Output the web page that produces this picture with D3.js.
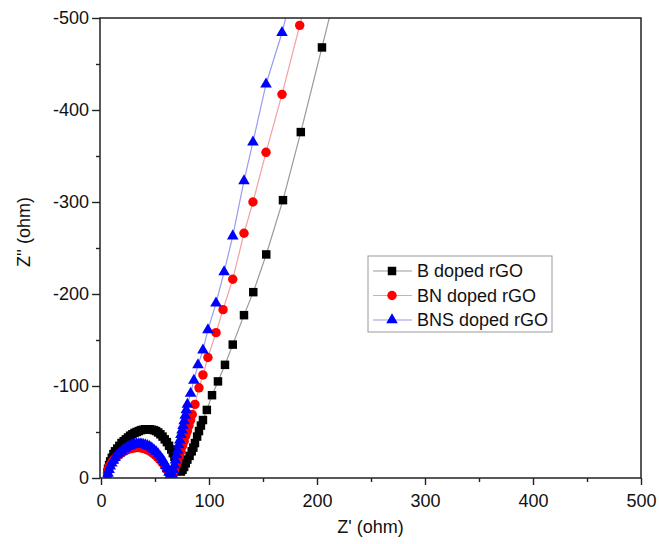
<!DOCTYPE html>
<html>
<head>
    <script src="https://cdn.jsdelivr.net/npm/d3@7"></script>
    <title>Nyquist plot</title>
</head>
<style>
    body { margin: 0; background: #fff; }
    text { font-family: "Liberation Sans", Arial, sans-serif; }
</style>
<body></body>
<script>
    // Data: Z' (ohm) and -Z'' (ohm)
    var seriesNames = ["B doped rGO", "BN doped rGO", "BNS doped rGO"];

    var bDopedX = [6, 6.5, 7.5, 8.5, 10, 11.5, 13, 15, 17, 19, 21, 23, 25, 27, 29, 31, 33, 35, 37, 39, 41, 43, 45,
                   47, 49, 51, 53, 55, 57, 59, 61, 63, 65, 66.5, 68, 69.5, 71, 72.5, 74,
                   75.5, 77, 78.5, 80, 82, 84, 85.5, 87, 89, 90.7, 92.5, 94.4, 98, 102.8, 108.3, 114.8, 122, 132.4,
                   141, 153, 168.5, 185, 204.6, 224];
    var bDopedY = [6, 10, 14, 18, 22, 26, 29, 32, 35, 38, 40, 42, 44, 46, 47.5, 49, 50, 51, 52, 52.5, 53, 53, 53,
                   52.5, 52, 51, 49.5, 47.5, 45, 42, 39, 35, 31, 27, 23, 19, 15, 11, 7,
                   9, 12, 16, 20, 24, 29, 33, 38, 45, 51, 57, 63, 74, 90, 105, 123, 145, 177,
                   202, 243, 302, 376, 468, 560];

    var bnDopedX = [6, 6.5, 7.5, 9, 10.5, 12, 14, 16, 18, 20, 22, 24, 26, 28, 30, 32, 34, 36, 38, 40, 42, 44,
                    46, 48, 50, 52, 54, 56, 58, 59.5, 61, 62.5, 64, 65,
                    66.5, 68, 69.5, 71, 72.5, 74, 75.5, 77, 78.5, 80, 81.5, 83, 84.5, 87, 90.7, 94.4, 99, 106.5, 113,
                    122, 132.4, 140.7, 152.8, 167.6, 184, 201];
    var bnDopedY = [5, 9, 12, 15, 18, 20, 22.5, 24.5, 26.5, 28, 29.5, 30.5, 31.5, 32, 32.5, 33, 33, 33, 32.5, 32, 31, 30,
                    28.5, 27, 25, 23, 20.5, 18, 15, 12, 9, 6, 3, 1,
                    3, 8, 13, 18, 24, 29, 35, 40, 46, 51, 57, 63, 69, 80, 98, 112, 131, 158, 183,
                    216, 266, 300, 354, 417, 492, 566];

    var bnsDopedX = [6, 6.5, 7.5, 8.5, 10, 11.5, 13, 15, 17, 19, 21, 23, 25, 27, 29, 31, 33, 35, 37, 39, 41, 43,
                     45, 47, 49, 51, 53, 55, 57, 58.5, 60, 61.5, 63, 64, 65,
                     66, 67, 68, 69, 70, 71, 72, 73, 74, 75, 76, 77, 78, 79, 80, 83, 86, 89.8, 94.4, 99, 106.5,
                     114, 122, 132.4, 140.7, 152.8, 167.6, 183];
    var bnsDopedY = [1, 5, 9, 13, 16, 19, 22, 25, 27, 29, 31, 32.5, 34, 35, 36, 36.5, 37, 37, 37, 36.5, 36, 35,
                     34, 32.5, 30.5, 28.5, 26, 23, 20, 17, 13.5, 10, 6, 3, 1,
                     4, 9, 14, 19.5, 25, 30, 36, 41, 47, 52, 57, 62, 68, 74, 80, 92, 106, 123, 139, 161, 190,
                     224, 263, 323, 365, 428, 484, 556];

    var xTicks = [0, 100, 200, 300, 400, 500];
    var xMinorTicks = [50, 150, 250, 350, 450];
    var yTicks = [0, 100, 200, 300, 400, 500];
    var yMinorTicks = [50, 150, 250, 350, 450];
    var yTickLabels = ["0", "-100", "-200", "-300", "-400", "-500"];

    var width = 659;
    var height = 544;
    var margin = {left: 100, right: 18, top: 18, bottom: 66};

    var xScale = d3.scaleLinear()
                    .domain([0, 500])
                    .range([margin.left + 1, width - margin.right]);

    var yScale = d3.scaleLinear()
                    .domain([0, 500])
                    .range([height - margin.bottom, margin.top]);

    var svg = d3.select("body")
                .append("svg")
                .attr("width", width)
                .attr("height", height);

    svg.append("clipPath")
        .attr("id", "plotClip")
        .append("rect")
        .attr("x", margin.left)
        .attr("y", margin.top)
        .attr("width", width - margin.left - margin.right)
        .attr("height", height - margin.top - margin.bottom);

    var series = [
        {name: seriesNames[0], xs: bDopedX, ys: bDopedY, color: "#000000", line: "#9a9a9a", shape: d3.symbolSquare, size: 72},
        {name: seriesNames[1], xs: bnDopedX, ys: bnDopedY, color: "#ff0000", line: "#f3a0a0", shape: d3.symbolCircle, size: 70},
        {name: seriesNames[2], xs: bnsDopedX, ys: bnsDopedY, color: "#0000ff", line: "#9a9af0", shape: d3.symbolTriangle, size: 58}
    ];

    var lineGen = d3.line()
                    .x(function(d){ return xScale(d[0]); })
                    .y(function(d){ return yScale(d[1]); });

    var plot = svg.append("g").attr("clip-path", "url(#plotClip)");

    series.forEach(function(s){
        var pts = s.xs.map(function(x, i){ return [x, s.ys[i]]; });
        var g = plot.append("g");
        g.append("path")
            .datum(pts)
            .attr("d", lineGen)
            .attr("fill", "none")
            .attr("stroke", s.line)
            .attr("stroke-width", 1.2);
        g.selectAll("path.pt")
            .data(pts)
            .enter()
            .append("path")
            .attr("class", "pt")
            .attr("d", d3.symbol().type(s.shape).size(s.size))
            .attr("transform", function(d){
                return "translate(" + xScale(d[0]) + "," + yScale(d[1]) + ")";
            })
            .attr("fill", s.color);
    });

    // Axes
    var xAxis = d3.axisBottom(xScale).tickValues(xTicks).tickSize(7).tickPadding(9);
    var xMinor = d3.axisBottom(xScale).tickValues(xMinorTicks).tickSize(4).tickFormat("");
    var yAxis = d3.axisLeft(yScale).tickValues(yTicks).tickSize(8).tickPadding(3)
                    .tickFormat(function(d, i){ return yTickLabels[i]; });
    var yMinor = d3.axisLeft(yScale).tickValues(yMinorTicks).tickSize(4).tickFormat("");

    svg.append("g")
        .attr("transform", "translate(0," + (height - margin.bottom) + ")")
        .call(xMinor);
    svg.append("g")
        .attr("class", "x axis")
        .attr("transform", "translate(0," + (height - margin.bottom) + ")")
        .call(xAxis);
    svg.append("g")
        .attr("transform", "translate(" + margin.left + ",0)")
        .call(yMinor);
    svg.append("g")
        .attr("class", "y axis")
        .attr("transform", "translate(" + margin.left + ",0)")
        .call(yAxis);

    svg.selectAll(".domain").remove();
    svg.selectAll(".tick line").attr("stroke", "#222").attr("stroke-width", 1.4);
    svg.selectAll(".tick text")
        .attr("font-size", 18)
        .attr("fill", "#111")
        .style("font-family", "Liberation Sans, Arial, sans-serif");

    // Frame
    svg.append("rect")
        .attr("x", margin.left)
        .attr("y", margin.top)
        .attr("width", width - margin.left - margin.right)
        .attr("height", height - margin.top - margin.bottom)
        .attr("fill", "none")
        .attr("stroke", "#222")
        .attr("stroke-width", 1.5);

    // Axis titles
    svg.append("text")
        .attr("x", (margin.left + width - margin.right) / 2)
        .attr("y", 533)
        .attr("text-anchor", "middle")
        .attr("font-size", 18)
        .attr("fill", "#111")
        .text("Z' (ohm)");

    svg.append("text")
        .attr("transform", "translate(30,232) rotate(-90)")
        .attr("text-anchor", "middle")
        .attr("font-size", 18)
        .attr("fill", "#111")
        .text("Z'' (ohm)");

    // Legend
    var legend = svg.append("g");
    legend.append("rect")
        .attr("x", 368)
        .attr("y", 256)
        .attr("width", 184)
        .attr("height", 76)
        .attr("fill", "#fff")
        .attr("stroke", "#999")
        .attr("stroke-width", 1);

    series.forEach(function(s, i){
        var ly = 271 + i * 24.5;
        legend.append("line")
            .attr("x1", 373).attr("x2", 412)
            .attr("y1", ly).attr("y2", ly)
            .attr("stroke", s.line)
            .attr("stroke-width", 1.2);
        legend.append("path")
            .attr("d", d3.symbol().type(s.shape).size(s.size)())
            .attr("transform", "translate(392," + ly + ")")
            .attr("fill", s.color);
        legend.append("text")
            .attr("x", 417)
            .attr("y", ly + 6)
            .attr("font-size", 18)
            .attr("fill", "#111")
            .text(s.name);
    });
</script>
</html>
